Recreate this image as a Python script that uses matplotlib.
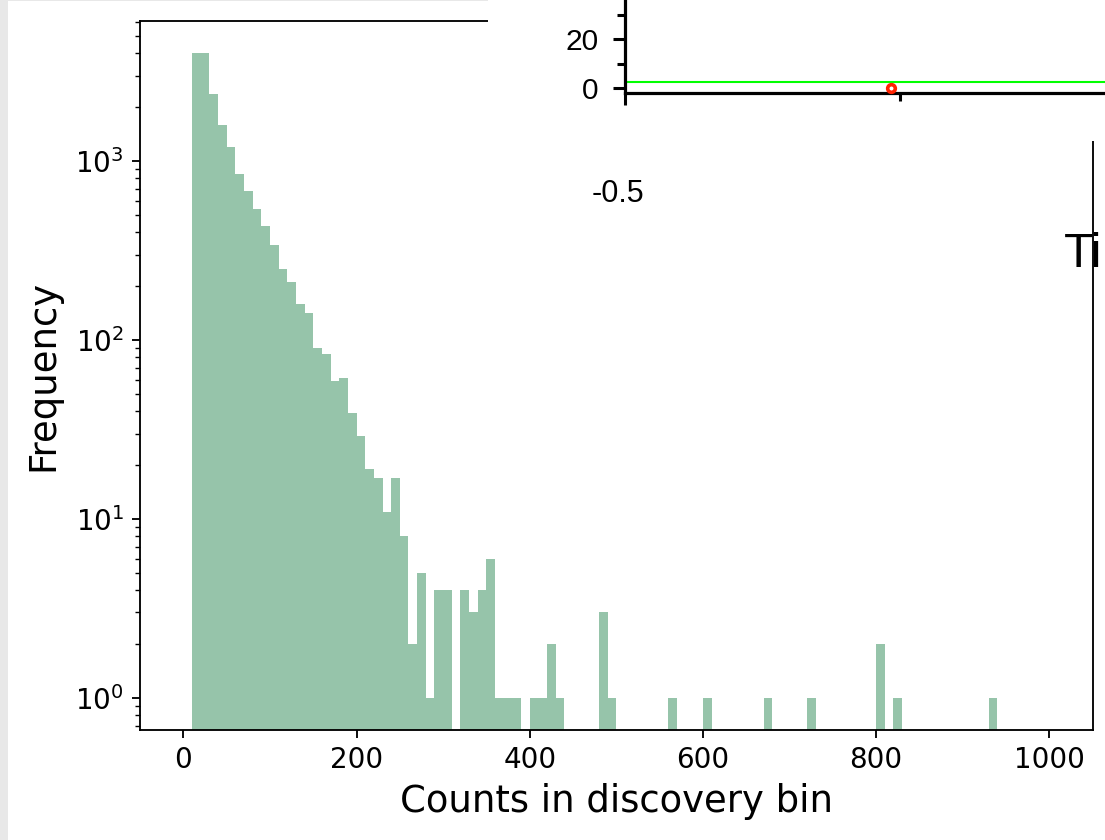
import numpy as np
import matplotlib
matplotlib.use('Agg')
import matplotlib.pyplot as plt
from matplotlib.patches import Rectangle

# ---------------- data ----------------
# Histogram: left edge of each non-empty bin (bin width 10) and its frequency
bin_left = [10, 20, 30, 40, 50, 60, 70, 80, 90, 100,
            110, 120, 130, 140, 150, 160, 170, 180, 190, 200,
            210, 220, 230, 240, 250, 260, 270, 280, 290, 300,
            320, 330, 340, 350, 360, 370, 380, 400, 410, 420,
            430, 480, 490, 560, 600, 670, 720, 800, 820, 930]
frequency = [4000, 4030, 2380, 1600, 1200, 850, 680, 540, 433, 340,
             251, 210, 159, 141, 90, 83, 59, 61, 39, 29,
             19, 17, 11, 17, 8, 2, 5, 1, 4, 4,
             4, 3, 4, 6, 1, 1, 1, 1, 1, 2,
             1, 3, 1, 1, 1, 1, 1, 2, 1, 1]
bin_edges = list(range(0, 1001, 10))

x_label = 'Counts in discovery bin'
y_label = 'Frequency'

# Overlapping panel (top-right)
inset_x = [-0.016]
inset_y = [0]
inset_hline = 2.6
inset_yticks = [0, 20]
inset_yminor = [10, 30]
inset_xtick_text = '-0.5'
inset_title_text = 'Ti'

# ---------------- style ----------------
s = 100 / 60.0
plt.rcParams.update({
    'font.size': 12 * s,
    'axes.labelsize': 16 * s,
    'xtick.labelsize': 12 * s,
    'ytick.labelsize': 12 * s,
    'axes.linewidth': 0.8 * s,
    'xtick.major.size': 3.5 * s, 'ytick.major.size': 3.5 * s,
    'xtick.major.width': 0.8 * s, 'ytick.major.width': 0.8 * s,
    'xtick.minor.size': 2 * s, 'ytick.minor.size': 2 * s,
    'xtick.minor.width': 0.6 * s, 'ytick.minor.width': 0.6 * s,
    'xtick.major.pad': 3.5 * s, 'ytick.major.pad': 3.5 * s,
    'axes.labelpad': 4 * s,
})

W, H = 1105, 840
fig = plt.figure(figsize=(W / 100, H / 100), dpi=100)

# ---------------- main histogram ----------------
ax = fig.add_axes([140 / W, 1 - 730 / H, (1092.7 - 140) / W, (730 - 20.7) / H])
ax.hist(np.array(bin_left) + 5, bins=bin_edges, weights=frequency,
        color='seagreen', alpha=0.5, log=True)
ax.set_xlim(-50, 1050)
ax.set_ylim(10 ** -0.18, 10 ** 3.785)
ax.set_xlabel(x_label)
ax.set_ylabel(y_label, labelpad=4 * s + 3.6)

# ---------------- screenshot framing ----------------
gray = '#e8e8e8'
fig.add_artist(Rectangle((0, 0), 8 / W, 1, transform=fig.transFigure,
                         facecolor=gray, edgecolor='none', zorder=1))
fig.add_artist(Rectangle((0, 1 - 1.2 / H), 488 / W, 1.2 / H, transform=fig.transFigure,
                         facecolor=gray, edgecolor='none', zorder=1))
fig.add_artist(Rectangle((488 / W, 1 - 141 / H), (W - 488) / W, 141 / H,
                         transform=fig.transFigure, facecolor='white',
                         edgecolor='none', zorder=1))

# ---------------- overlapping panel ----------------
iax = fig.add_axes([625 / W, 1 - 93.3 / H, 550 / W, 93.3 / H], zorder=2)
iax.set_facecolor('none')
iax.set_xlim(-0.5, 0.5)
iax.set_ylim(-2.04, 36.04)
for side in ('top', 'right'):
    iax.spines[side].set_visible(False)
for side in ('left', 'bottom'):
    iax.spines[side].set_linewidth(2.3)
iax.axhline(inset_hline, color='#00ff00', lw=1.5, zorder=2)
iax.plot(inset_x, inset_y, 'o', mfc='white', mec='#ff2200', ms=5.5, mew=2.6,
         clip_on=False, zorder=3)
iax.set_yticks(inset_yticks)
iax.set_yticks(inset_yminor, minor=True)
iax.set_xticks([-0.5])
iax.set_xticklabels([''])
iax.set_xticks([0], minor=True)
iax.tick_params(axis='both', which='major', length=8.6, width=2.2)
iax.tick_params(axis='both', which='minor', length=5.8, width=2.2)
iax.tick_params(axis='y', which='major', labelsize=21.5, pad=10.5,
                labelfontfamily='Liberation Sans')

fig.text(591.7 / W, 1 - 201.7 / H, inset_xtick_text, fontsize=22,
         family='Liberation Sans', ha='left', va='baseline', zorder=3)
fig.text(1064 / W, 1 - 266.7 / H, inset_title_text, fontsize=34.5,
         family='Liberation Sans', ha='left', va='baseline', zorder=3)

fig.savefig('out.png', dpi=100)
